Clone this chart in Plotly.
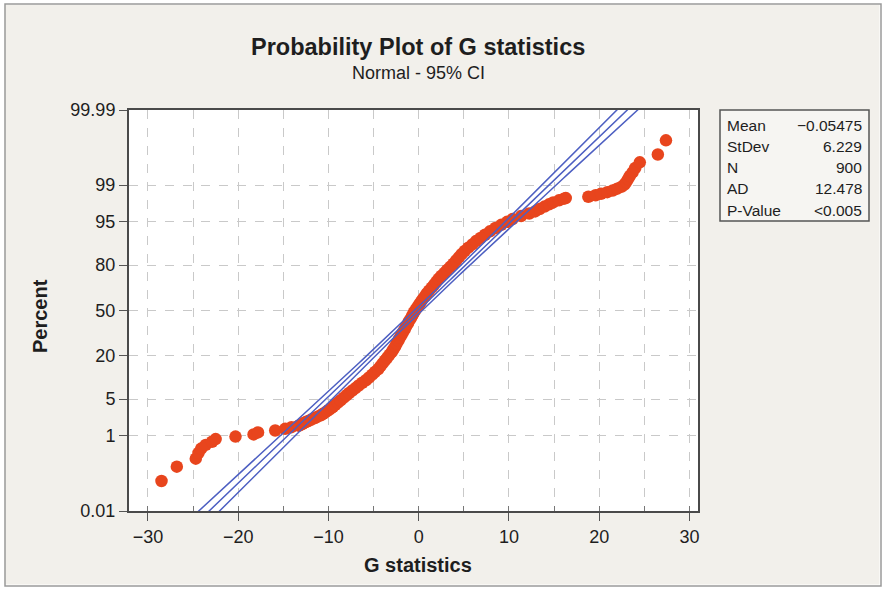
import numpy as np
import plotly.graph_objects as go
from statistics import NormalDist

# ---------------- data ----------------
# sorted G statistics and their plotted cumulative percent (median-rank positions)
g_values = [
    -28.5, -26.8, -24.7, -24.4, -24.1, -23.6, -22.9, -22.5, -20.3, -18.3,
    -17.8, -15.9, -14.8, -14.1, -13.3,
    -13.2, -12.9, -12.7, -12.45, -12.15, -11.9, -11.5, -11.2, -10.85, -10.6,
    -10.4, -10.15, -9.9, -9.7, -9.5,
    -9.25, -8.95, -8.65, -8.3, -8.0, -7.7, -7.35, -7.0, -6.65, -6.25,
    -5.85, -5.5, -5.15, -4.85, -4.5, -4.25, -4.0, -3.75, -3.5, -3.25,
    -3.0, -2.8, -2.6, -2.45, -2.25, -2.1, -1.9, -1.75, -1.55, -1.4,
    -1.2, -1.05, -0.85, -0.7, -0.55, -0.35, -0.15, 0.05, 0.25, 0.45,
    0.7, 0.9, 1.15, 1.45, 1.7, 1.95, 2.2, 2.5, 2.85, 3.15,
    3.5, 3.85, 4.15, 4.45, 4.75, 5.1, 5.5, 5.95, 6.35, 6.85,
    7.35, 7.9, 8.5, 9.15, 9.8, 10.4,
    11.35, 12.25, 12.9, 13.4, 13.95, 14.45, 14.9, 15.55, 16.1, 16.3,
    18.8, 19.6, 20.2, 20.9, 21.5, 22.0, 22.5, 22.8, 23.0, 23.2,
    23.4, 23.7, 24.0, 24.5, 26.5, 27.4,
]
percent_values = [
    0.078, 0.189, 0.300, 0.411, 0.522, 0.633, 0.744, 0.855, 0.966, 1.077,
    1.188, 1.299, 1.410, 1.521, 1.633,
    1.65, 1.75, 1.85, 1.95, 2.05, 2.15, 2.3, 2.45, 2.6, 2.75,
    2.9, 3.1, 3.3, 3.5, 3.7,
    4.0, 4.4, 4.8, 5.3, 5.8, 6.3, 6.9, 7.5, 8.2, 9.0,
    9.8, 10.7, 11.7, 12.7, 13.8, 15.0, 16.3, 17.6, 19.0, 20.5,
    22.0, 23.6, 25.3, 27.0, 28.8, 30.6, 32.5, 34.4, 36.4, 38.4,
    40.4, 42.4, 44.4, 46.4, 48.4, 50.4, 52.4, 54.4, 56.4, 58.4,
    60.4, 62.4, 64.4, 66.4, 68.3, 70.2, 72.1, 73.9, 75.7, 77.4,
    79.1, 80.7, 82.3, 83.8, 85.2, 86.5, 87.8, 89.0, 90.1, 91.1,
    92.0, 92.9, 93.7, 94.4, 95.0, 95.5,
    96.0, 96.4, 96.7, 97.0, 97.3, 97.55, 97.75, 97.95, 98.1, 98.15,
    98.26, 98.37, 98.48, 98.59, 98.70, 98.81, 98.92, 99.03, 99.14, 99.26,
    99.37, 99.48, 99.59, 99.70, 99.81, 99.92,
]

y_tick_percents = [0.01, 1, 5, 20, 50, 80, 95, 99, 99.99]
y_tick_labels = ["0.01", "1", "5", "20", "50", "80", "95", "99", "99.99"]
x_tick_vals = [-30, -20, -10, 0, 10, 20, 30]

stat_names = ["Mean", "StDev", "N", "AD", "P-Value"]
stat_texts = ["\u22120.05475", "6.229", "900", "12.478", "<0.005"]
mean_val = -0.05475
sd_val = 6.229
n_val = 900

# ---------------- probability scale ----------------
nd = NormalDist()
def pscore(p):
    return nd.inv_cdf(p / 100.0)

y_pts = [pscore(p) for p in percent_values]
z_min, z_max = pscore(0.01), pscore(99.99)

# fitted normal line with 95% CI
z_line = np.linspace(z_min - 0.2, z_max + 0.2, 200)
x_fit = mean_val + z_line * sd_val
half = 1.96 * sd_val * np.sqrt(1.0 / n_val + z_line ** 2 / (2.0 * n_val))

# ---------------- geometry ----------------
W, H = 884, 589
L, R, T, B = 129, 186, 110, 78
PW, PH = W - L - R, H - T - B
def px(x):
    return (x - L) / PW
def py(y):
    return (H - B - y) / PH

FONT = "Liberation Sans, Arial, Helvetica, sans-serif"
RED = "#E8451D"
BLUE = "#4D5FC2"
BG = "#F2F0EB"
TXT = "#1E1E1E"

fig = go.Figure()
fig.add_trace(go.Scatter(
    x=g_values, y=y_pts, mode="markers",
    marker=dict(color=RED, size=12.5, line=dict(width=0)),
    hoverinfo="skip", showlegend=False))
for xs in (x_fit - half, x_fit, x_fit + half):
    fig.add_trace(go.Scatter(
        x=xs, y=z_line, mode="lines",
        line=dict(color=BLUE, width=1.5),
        hoverinfo="skip", showlegend=False))

grid = dict(showgrid=True, gridcolor="#C9C9C9", gridwidth=1, griddash="dash")
fig.update_xaxes(
    range=[-32.1, 30.95], tickvals=x_tick_vals,
    ticks="outside", ticklen=8, tickcolor="#555", tickwidth=1.2,
    tickfont=dict(family=FONT, size=18, color=TXT),
    showline=True, linecolor="#4A4A4A", linewidth=2, mirror=True,
    zeroline=False,
    minor=dict(dtick=5, tick0=0, ticks="inside", ticklen=5, tickcolor="#777",
               showgrid=True, gridcolor="#C9C9C9", griddash="dash"),
    **grid)
fig.update_yaxes(
    range=[z_min, z_max], tickvals=[pscore(p) for p in y_tick_percents],
    ticktext=y_tick_labels,
    ticks="outside", ticklen=8, tickcolor="#555", tickwidth=1.2,
    tickfont=dict(family=FONT, size=18, color=TXT),
    showline=True, linecolor="#4A4A4A", linewidth=2, mirror=True,
    zeroline=False, **grid)

ann = []
ann.append(dict(text="<b>Probability Plot of G statistics</b>", x=px(418), y=py(47),
                font=dict(family=FONT, size=23.5, color=TXT)))
ann.append(dict(text="Normal - 95% CI", x=px(418), y=py(73),
                font=dict(family=FONT, size=18, color=TXT)))
ann.append(dict(text="<b>G statistics</b>", x=px(418), y=py(565),
                font=dict(family=FONT, size=20, color=TXT)))
ann.append(dict(text="<b>Percent</b>", x=px(40), y=py(316), textangle=-90,
                font=dict(family=FONT, size=20, color=TXT)))
row_y = [125, 146, 167, 188, 210]
for name, val, yy in zip(stat_names, stat_texts, row_y):
    ann.append(dict(text=name, x=px(725), y=py(yy), xanchor="left",
                    font=dict(family=FONT, size=15.5, color=TXT)))
    ann.append(dict(text=val, x=px(864), y=py(yy), xanchor="right",
                    font=dict(family=FONT, size=15.5, color=TXT)))
for a in ann:
    a.update(xref="paper", yref="paper", showarrow=False)
    a.setdefault("xanchor", "center")
    a.setdefault("yanchor", "middle")

shapes = [
    # white strip outside the gray frame
    dict(type="rect", xref="paper", yref="paper",
         x0=px(0), x1=px(W), y0=py(H), y1=py(0),
         line=dict(color="white", width=9), fillcolor="rgba(0,0,0,0)", layer="above"),
    dict(type="rect", xref="paper", yref="paper",
         x0=px(5), x1=px(881), y0=py(586), y1=py(4),
         line=dict(color="#9A9A9A", width=1.5), fillcolor="rgba(0,0,0,0)", layer="above"),
    # stats box
    dict(type="rect", xref="paper", yref="paper",
         x0=px(720), x1=px(869), y0=py(221), y1=py(110),
         line=dict(color="#555", width=1.5), fillcolor="rgba(255,255,255,0.35)", layer="above"),
]

fig.update_layout(
    width=W, height=H, autosize=False,
    margin=dict(l=L, r=R, t=T, b=B, pad=0),
    paper_bgcolor=BG, plot_bgcolor="white",
    annotations=ann, shapes=shapes,
    font=dict(family=FONT, color=TXT),
)

fig.write_html("out.html")
